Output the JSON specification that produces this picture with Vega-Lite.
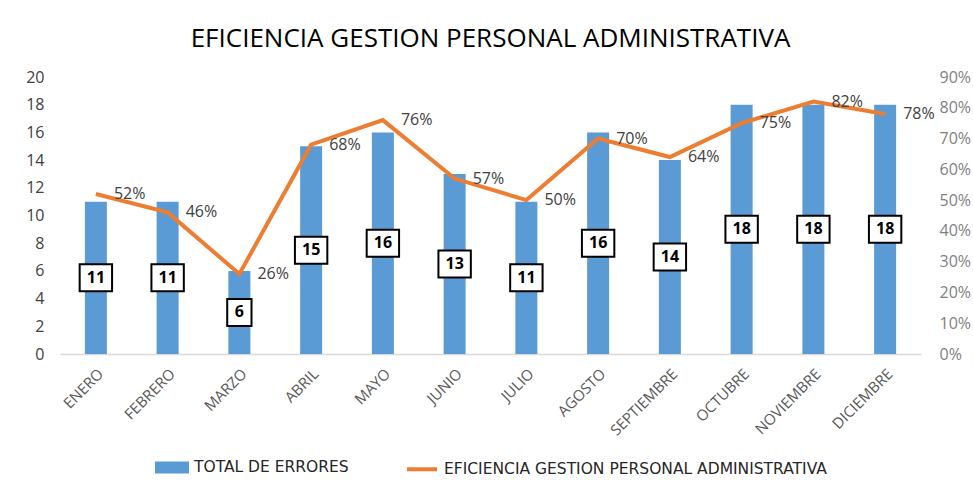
{
  "$schema": "https://vega.github.io/schema/vega-lite/v6.json",
  "width": 861,
  "height": 277,
  "autosize": {"type": "none"},
  "padding": {"left": 60, "top": 77, "right": 52, "bottom": 135},
  "background": "white",
  "config": {
    "view": {"stroke": null},
    "font": "Open Sans",
    "axis": {"grid": false, "ticks": false, "labelFont": "Open Sans"}
  },
  "title": {
    "text": "EFICIENCIA GESTION PERSONAL ADMINISTRATIVA",
    "fontSize": 26,
    "fontWeight": "normal",
    "font": "Open Sans",
    "color": "#000000",
    "anchor": "middle",
    "offset": 17
  },
  "data": {
    "values": [
      {"mes": "ENERO", "errores": 11, "eficiencia": 0.52},
      {"mes": "FEBRERO", "errores": 11, "eficiencia": 0.46},
      {"mes": "MARZO", "errores": 6, "eficiencia": 0.26},
      {"mes": "ABRIL", "errores": 15, "eficiencia": 0.68},
      {"mes": "MAYO", "errores": 16, "eficiencia": 0.76},
      {"mes": "JUNIO", "errores": 13, "eficiencia": 0.57},
      {"mes": "JULIO", "errores": 11, "eficiencia": 0.50},
      {"mes": "AGOSTO", "errores": 16, "eficiencia": 0.70},
      {"mes": "SEPTIEMBRE", "errores": 14, "eficiencia": 0.64},
      {"mes": "OCTUBRE", "errores": 18, "eficiencia": 0.75},
      {"mes": "NOVIEMBRE", "errores": 18, "eficiencia": 0.82},
      {"mes": "DICIEMBRE", "errores": 18, "eficiencia": 0.78}
    ]
  },
  "encoding": {
    "x": {
      "field": "mes",
      "type": "nominal",
      "sort": null,
      "scale": {"paddingInner": 0, "paddingOuter": 0},
      "axis": {
        "title": null,
        "labelAngle": -45,
        "labelFontSize": 15,
        "labelColor": "#595959",
        "labelPadding": 12,
        "domainColor": "#d9d9d9",
        "domainWidth": 1.5
      }
    }
  },
  "layer": [
    {
      "encoding": {
        "y": {
          "type": "quantitative",
          "scale": {"domain": [0, 20], "nice": false},
          "axis": {
            "title": null,
            "orient": "left",
            "values": [0, 2, 4, 6, 8, 10, 12, 14, 16, 18, 20],
            "labelFontSize": 16,
            "labelColor": "#404040",
            "labelPadding": 16,
            "domain": false
          }
        }
      },
      "layer": [
        {
          "mark": {"type": "bar", "size": 22},
          "encoding": {
            "y": {"field": "errores", "type": "quantitative"},
            "color": {
              "datum": "TOTAL DE ERRORES",
              "type": "nominal",
              "scale": {
                "domain": ["TOTAL DE ERRORES", "EFICIENCIA GESTION PERSONAL ADMINISTRATIVA"],
                "range": ["#5b9bd5", "#ed7d31"]
              },
              "legend": {
                "title": null,
                "orient": "none",
                "legendX": 95,
                "legendY": 373,
                "direction": "horizontal",
                "columnPadding": 50,
                "labelFont": "DejaVu Sans",
                "labelFontSize": 15.5,
                "labelColor": "#262626",
                "labelOffset": 5,
                "labelLimit": 600,
                "symbolSize": 900,
                "encode": {
                  "symbols": {
                    "update": {
                      "shape": {"signal": "datum.value == 'TOTAL DE ERRORES' ? 'M-1,-0.27H1V0.27H-1Z' : 'M-1,0H1'"},
                      "fill": {"signal": "datum.value == 'TOTAL DE ERRORES' ? '#5b9bd5' : 'transparent'"},
                      "stroke": {"signal": "datum.value == 'TOTAL DE ERRORES' ? 'transparent' : '#ed7d31'"},
                      "strokeWidth": {"value": 4},
                      "opacity": {"value": 1}
                    }
                  }
                }
              }
            }
          }
        },
        {
          "transform": [{"calculate": "datum.errores / 2", "as": "mid"}],
          "mark": {"type": "point", "filled": true, "fill": "white", "stroke": "black", "strokeWidth": 2, "opacity": 1, "size": 729},
          "encoding": {
            "y": {"field": "mid", "type": "quantitative"},
            "shape": {
              "condition": {"test": "datum.errores < 10", "value": "M-0.9,-1H0.9V1H-0.9Z"},
              "value": "M-1.2,-1H1.2V1H-1.2Z"
            }
          }
        },
        {
          "transform": [{"calculate": "datum.errores / 2", "as": "mid"}],
          "mark": {"type": "text", "fontSize": 16, "fontWeight": "bold", "color": "black", "baseline": "middle", "align": "center", "font": "Open Sans"},
          "encoding": {
            "y": {"field": "mid", "type": "quantitative"},
            "text": {"field": "errores", "type": "quantitative"}
          }
        }
      ]
    },
    {
      "encoding": {
        "y": {
          "field": "eficiencia",
          "type": "quantitative",
          "scale": {"domain": [0, 0.9], "nice": false},
          "axis": {
            "title": null,
            "orient": "right",
            "format": ".0%",
            "values": [0, 0.1, 0.2, 0.3, 0.4, 0.5, 0.6, 0.7, 0.8, 0.9],
            "labelFontSize": 16,
            "labelColor": "#7f7f7f",
            "labelPadding": 18,
            "domain": false
          }
        }
      },
      "layer": [
        {
          "mark": {"type": "line", "strokeWidth": 4},
          "encoding": {
            "color": {"datum": "EFICIENCIA GESTION PERSONAL ADMINISTRATIVA", "type": "nominal"}
          }
        },
        {
          "mark": {"type": "text", "align": "left", "baseline": "middle", "dx": 18, "fontSize": 16, "color": "#404040", "font": "Open Sans"},
          "encoding": {
            "text": {"field": "eficiencia", "type": "quantitative", "format": ".0%"}
          }
        }
      ]
    }
  ],
  "resolve": {"scale": {"y": "independent"}}
}
